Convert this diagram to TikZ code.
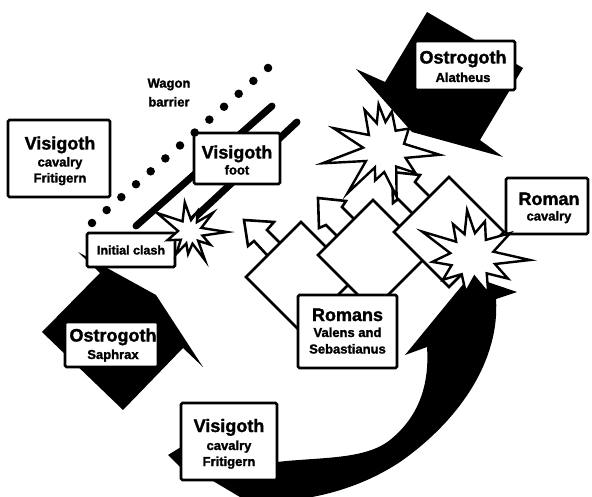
\documentclass[tikz,border=0pt]{standalone}
\usepackage{fontspec}
\setmainfont{Liberation Sans}[BoldFeatures={FakeBold=1.6}]
\begin{document}
\begin{tikzpicture}[x=1pt,y=-1pt,
  box/.style={draw=black, fill=white, line width=2.8pt, rounded corners=1.5pt, inner sep=0pt},
  big/.style={font=\bfseries\fontsize{18}{20}\selectfont, anchor=base, inner sep=0pt},
  small/.style={font=\bfseries\fontsize{13}{15}\selectfont, anchor=base, inner sep=0pt},
  unit/.style={draw=black, fill=white, line width=2.6pt, line join=miter},
  boom/.style={draw=black, fill=white, line width=2.4pt, line join=miter},
  dot/.style={circle, fill=black, inner sep=0pt, minimum size=8.5pt},
  wall/.style={draw=black, line width=7pt, line cap=round},
  mass/.style={fill=black}]
\useasboundingbox (0,0) rectangle (592,497);
\fill[white] (0,0) rectangle (592,497);

% wagon barrier label
\node[small] (wag1) at (169,87.6) {Wagon};
\node[small] (wag2) at (169,106.5) {barrier};

% Visigoth foot lines
\draw[wall] (136,226) -- (272,106);
\draw[wall] (190,222) -- (297,122);

% Visigoth boxes (upper)
\node[box, minimum width=102pt, minimum height=77pt] (vcTop) at (59,158.5) {};
\node[box, minimum width=86pt, minimum height=51pt] (vfoot) at (237,158.5) {};

% wagon dots
\foreach \i in {0,...,12}
  \node[dot] (d\i) at ({92+14.67*\i},{223-12.92*\i}) {};

% Ostrogoth Saphrax mass
\fill[mass] (42,332) -- (100,273) -- (78,252) -- (156,295) -- (203,367) -- (183,348) -- (123,410) -- cycle;
\node[box, minimum width=88pt, minimum height=34pt] (clash) at (131,250) {};
\node[box, minimum width=93pt, minimum height=45pt] (saph) at (111.5,344.5) {};

% explosion at initial clash
\begin{scope}[shift={(190,232)}]
\draw[boom] (0:37) \foreach \a/\r in {16/13,32/24,47/12,62/32,78/12,95/22,108/12,122/26,140/12,160/24,185/12,210/38,235/13,260/30,275/12,290/22,305/12,320/30,340/12} { -- (\a:\r) } -- cycle;
\end{scope}

% Ostrogoth Alatheus mass
\fill[mass] (356,69) -- (385,82) -- (427,12) -- (523,68) -- (480,140) -- (503,157) -- (412,132) -- cycle;
\node[box, minimum width=100pt, minimum height=49pt] (alat) at (465,65.5) {};

% Roman formation
\draw[unit] (244,220) -- (274,222) -- (267,230) -- (292,255) -- (279,268) -- (254,241) -- (248,246) -- cycle;
\draw[unit] (301,222) -- (356,277) -- (301,332) -- (246,277) -- cycle;
\draw[unit] (318,198) -- (346,201) -- (342,207) -- (367,232) -- (351,250) -- (326,225) -- (319,228) -- cycle;
\draw[unit] (373,200) -- (428,255) -- (373,310) -- (318,255) -- cycle;
\draw[unit] (392,172) -- (420,175) -- (415,182) -- (440,207) -- (423,224) -- (398,199) -- (393,203) -- cycle;
\draw[unit] (449,177) -- (504,232) -- (449,287) -- (394,232) -- cycle;

% Visigoth cavalry sweep
\begin{scope}
\clip (0,0) rectangle (592,497);
\fill[mass] (427,347) -- (405,355) -- (455,294) -- (470,276) -- (517,292) -- (496,299)
  .. controls (500,360) and (460,420) .. (400,462)
  .. controls (350,495) and (290,505) .. (245,500)
  -- (213,481) -- (181,468) -- (168,455) -- (181,447) -- (230,452) -- (277,462)
  .. controls (320,457) and (365,460) .. (390,440)
  .. controls (415,420) and (430,390) .. (427,347) -- cycle;
\end{scope}

\node[box, minimum width=99pt, minimum height=73pt] (romans) at (347.5,331.5) {};
\node[box, minimum width=82pt, minimum height=56pt] (romcav) at (547,206) {};
\node[box, minimum width=96pt, minimum height=77pt] (vcLow) at (229,441.5) {};

% explosions
\begin{scope}[shift={(385,150)}]
\draw[boom] (5:55) \foreach \a/\r in {21/22,37/38,56/20,76/48,92/22,108/32,120/20,131/57,150/22,168/64,186/22,203/56,223/22,243/45,253/28,262/46,271/28,280/39,299/22,318/32,342/20} { -- (\a:\r) } -- cycle;
\end{scope}
\begin{scope}[shift={(472,257)}]
\draw[boom] (3:58) \foreach \a/\r in {17/24,31/42,48/22,66/40,83/20,100/36,121/20,142/37,158/22,173/40,190/22,207/56,224/22,240/38,252/24,264/47,277/24,290/38,309/22,328/45,346/22} { -- (\a:\r) } -- cycle;
\end{scope}

% texts
\node[big] (t1) at (60,149.5) {Visigoth};
\node[small] (t2) at (60,166.5) {cavalry};
\node[small] (t3) at (60,182.5) {Fritigern};
\node[big] (t4) at (237,158.5) {Visigoth};
\node[small] (t5) at (237,174.5) {foot};
\node[small, font=\bfseries\fontsize{12.5}{14}\selectfont] (t6) at (131,254.5) {Initial clash};
\node[big] (t7) at (113,341.5) {Ostrogoth};
\node[small] (t8) at (113,359) {Saphrax};
\node[big] (t9) at (463,63.5) {Ostrogoth};
\node[small] (t10) at (463,82) {Alatheus};
\node[big] (t11) at (549,205) {Roman};
\node[small] (t12) at (549,220.5) {cavalry};
\node[big] (t13) at (347.5,321) {Romans};
\node[small] (t14) at (347.5,337) {Valens and};
\node[small] (t15) at (347.5,353.5) {Sebastianus};
\node[big] (t16) at (229,432) {Visigoth};
\node[small] (t17) at (229,450) {cavalry};
\node[small] (t18) at (229,466) {Fritigern};
\end{tikzpicture}
\end{document}
